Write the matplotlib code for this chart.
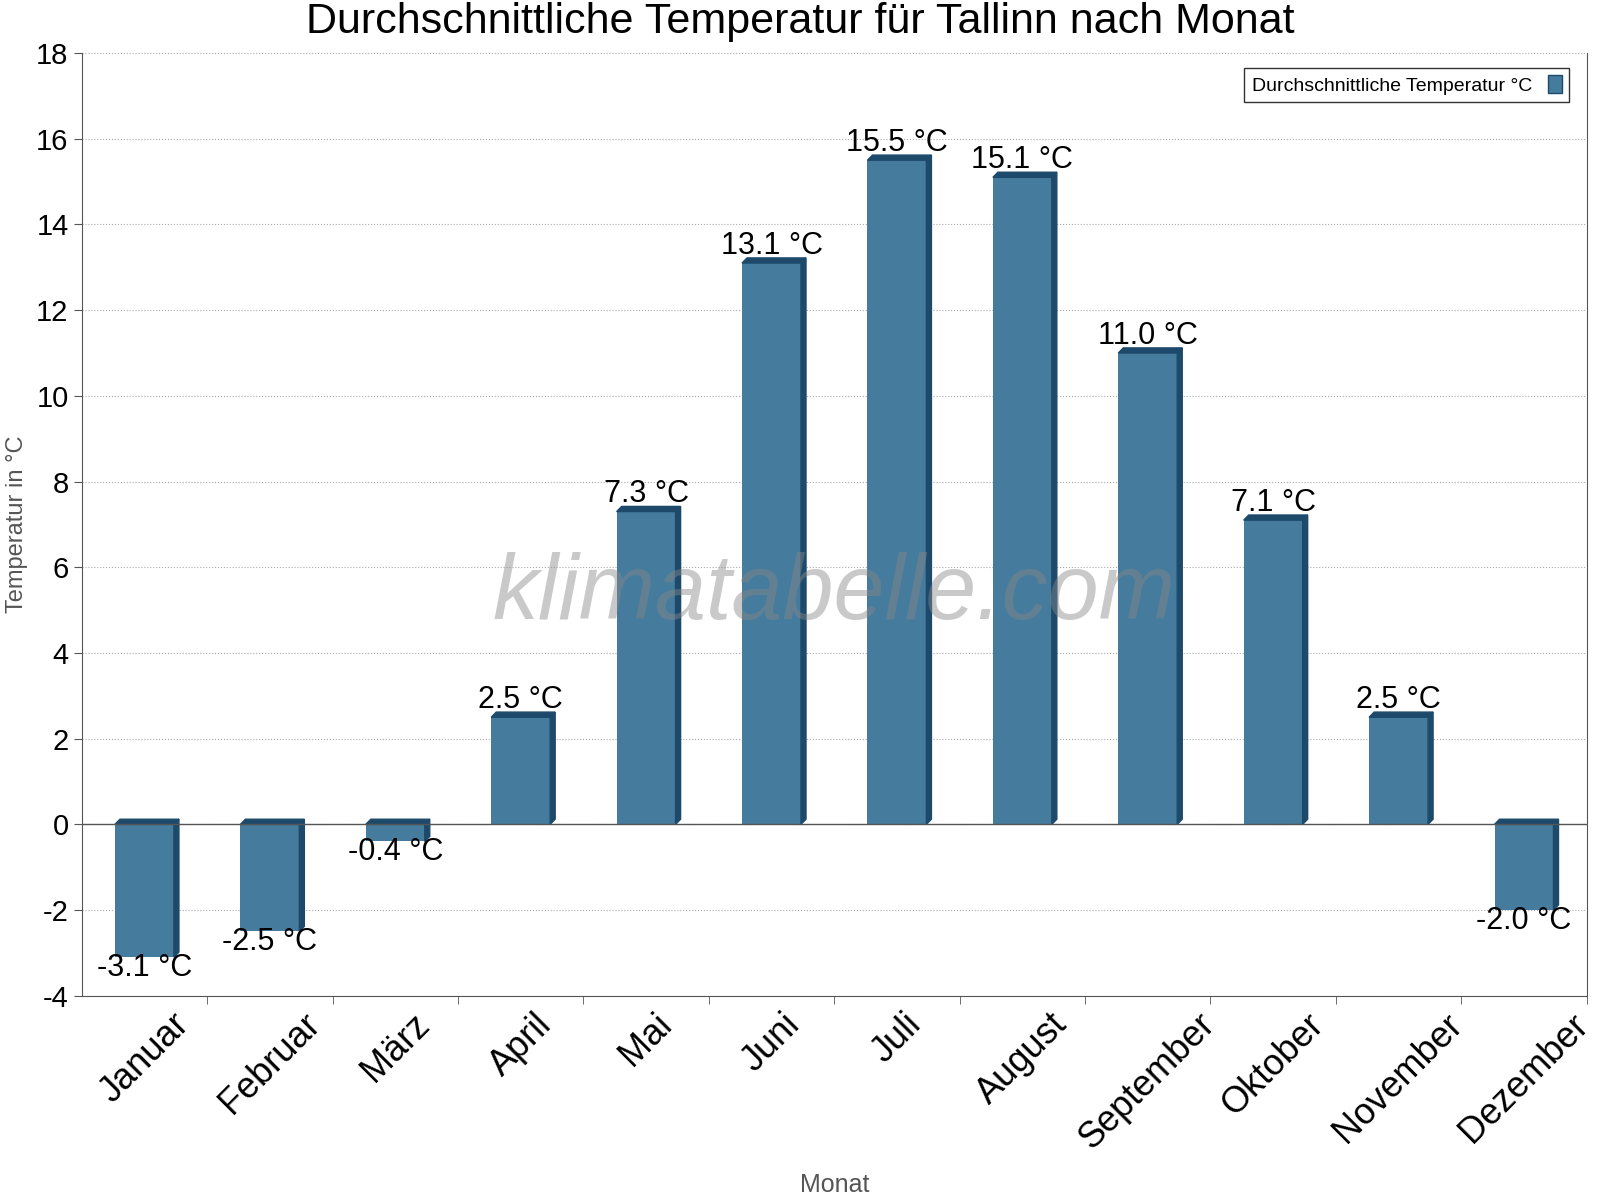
import matplotlib
matplotlib.use("Agg")
import matplotlib.pyplot as plt
from matplotlib.patches import Polygon, Patch
import numpy as np

plt.rcParams["font.family"] = "Liberation Sans"

months = ["Januar", "Februar", "März", "April", "Mai", "Juni", "Juli", "August",
          "September", "Oktober", "November", "Dezember"]
temps = [-3.1, -2.5, -0.4, 2.5, 7.3, 13.1, 15.5, 15.1, 11.0, 7.1, 2.5, -2.0]
yticks = [-4, -2, 0, 2, 4, 6, 8, 10, 12, 14, 16, 18]

fig = plt.figure(figsize=(16, 12), dpi=100)
ax = fig.add_axes([80/1566, 1-975/1175, (1553-80)/1566, (975-52)/1175])
face = "#457b9d"
dark = "#1d4a6b"
x = np.arange(len(months))
w = 0.47
dx, dy = 0.04, 0.12
ax.bar(x, temps, width=w, color=face, zorder=3)
for xi, t in zip(x, temps):
    l, r = xi - w/2, xi + w/2
    lo, hi = min(0, t), max(0, t)
    ax.add_patch(Polygon([(r, lo), (r+dx, lo+dy), (r+dx, hi+dy), (r, hi)], closed=True, color=dark, zorder=3))
    ax.add_patch(Polygon([(l, hi), (l+dx, hi+dy), (r+dx, hi+dy), (r, hi)], closed=True, color=dark, zorder=3))
    if t >= 0:
        ax.text(xi, t + 0.05, f"{t:.1f} °C", ha="center", va="bottom", fontsize=22, zorder=5)
    else:
        ax.text(xi, t + 0.1, f"{t:.1f} °C", ha="center", va="top", fontsize=22, zorder=5)

ax.set_xlim(-0.5, 11.5)
ax.set_ylim(-4, 18)
ax.set_yticks(yticks)
ax.set_yticklabels([str(v) for v in yticks], fontsize=21)
ax.yaxis.grid(True, linestyle=":", color="#aaaaaa", zorder=0)
ax.axhline(0, color="#555555", lw=1, zorder=4)
ax.set_xticks(x)
ax.set_xticklabels(months, rotation=45, ha="center", va="top", fontsize=26)
ax.tick_params(axis="x", length=0, pad=8)
ax.set_xticks(np.arange(0.5, 12, 1), minor=True)
ax.tick_params(axis="x", which="minor", length=6, direction="out", color="#555555")
ax.tick_params(axis="y", length=6, color="#555555")
ax.spines["top"].set_visible(False)
for s in ["right", "left", "bottom"]:
    ax.spines[s].set_color("#555555")
ax.set_ylabel("Temperatur in °C", fontsize=17, color="#555555", labelpad=6)
ax.set_xlabel("Monat", fontsize=18, color="#555555", labelpad=12)
fig.text(0.5, 1-22/1175, "Durchschnittliche Temperatur für Tallinn nach Monat", ha="center", va="center", fontsize=31)
ax.text(0.5, 0.425, "klimatabelle.com", transform=ax.transAxes, ha="center", va="center",
        fontsize=66, style="italic", color="#888888", alpha=0.45, zorder=6)
ax.legend(handles=[Patch(facecolor=face, edgecolor=dark, label="Durchschnittliche Temperatur °C")],
          loc="upper right", markerfirst=False, fontsize=14, fancybox=False, framealpha=1,
          edgecolor="#333333", handlelength=0.7, handleheight=1.0, bbox_to_anchor=(0.995, 0.995))
fig.savefig("out.png", dpi=100)
